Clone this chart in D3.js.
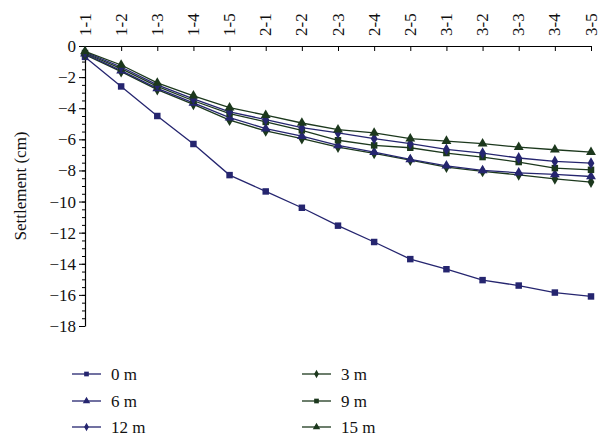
<!DOCTYPE html>
<html><head><meta charset="utf-8">
<script src="https://cdn.jsdelivr.net/npm/d3@7"></script>
<style>body{margin:0;background:#fff}svg{display:block}</style>
</head><body><svg id="c" width="602" height="438"></svg>
<script>
const categories = ["1-1","1-2","1-3","1-4","1-5","2-1","2-2","2-3","2-4","2-5","3-1","3-2","3-3","3-4","3-5"];
const s0m  = [-0.7,-2.6,-4.5,-6.3,-8.3,-9.35,-10.4,-11.55,-12.6,-13.7,-14.35,-15.05,-15.4,-15.85,-16.1];
const s3m  = [-0.55,-1.65,-2.8,-3.75,-4.77,-5.46,-5.96,-6.5,-6.9,-7.33,-7.78,-8.06,-8.28,-8.54,-8.75];
const s6m  = [-0.5,-1.58,-2.72,-3.66,-4.6,-5.31,-5.8,-6.39,-6.82,-7.29,-7.7,-8.0,-8.15,-8.25,-8.39];
const s9m  = [-0.45,-1.45,-2.6,-3.52,-4.34,-4.88,-5.42,-6.06,-6.39,-6.54,-6.88,-7.14,-7.46,-7.85,-7.96];
const s12m = [-0.4,-1.35,-2.5,-3.4,-4.24,-4.73,-5.25,-5.59,-5.96,-6.28,-6.65,-6.88,-7.2,-7.42,-7.53];
const s15m = [-0.35,-1.22,-2.37,-3.2,-3.96,-4.45,-4.95,-5.38,-5.59,-5.96,-6.11,-6.28,-6.5,-6.67,-6.82];
const yTicks = [0,-2,-4,-6,-8,-10,-12,-14,-16,-18];
const seriesNames = ["0 m","3 m","6 m","9 m","12 m","15 m"];

const NAVY = "#25256f", GREEN = "#1c381d";
const FONT = "'Liberation Serif', monospace";
const series = [
  {name: seriesNames[0], values: s0m, color: NAVY, shape: "square"},
  {name: seriesNames[1], values: s3m, color: GREEN, shape: "diamond"},
  {name: seriesNames[2], values: s6m, color: NAVY, shape: "triangle"},
  {name: seriesNames[3], values: s9m, color: GREEN, shape: "square"},
  {name: seriesNames[4], values: s12m, color: NAVY, shape: "diamond"},
  {name: seriesNames[5], values: s15m, color: GREEN, shape: "triangle"}
];

const svg = d3.select("#c").style("font-family", FONT);
const x = d3.scalePoint().domain(categories).range([85, 591]).padding(0);
const y = d3.scaleLinear().domain([0, -18]).range([46, 326]);

const fmt = d => d === 0 ? "0" : "\u2212" + Math.abs(d);

const minor = d3.range(0, -18.01, -0.5);
svg.append("g").attr("transform","translate(85,0)")
  .call(d3.axisLeft(y).tickValues(minor).tickSize(3).tickFormat(""))
  .call(g => g.select(".domain").remove())
  .call(g => g.selectAll("line").attr("stroke","#000"));
svg.append("g").attr("transform","translate(85,0)")
  .call(d3.axisLeft(y).tickValues(yTicks).tickSize(6).tickSizeOuter(0).tickFormat(""))
  .call(g => g.select(".domain").attr("stroke","#000").attr("stroke-width",1.2))
  .call(g => g.selectAll("line").attr("stroke","#000"));
svg.append("g").selectAll("text").data(yTicks).join("text")
  .attr("x", 76).attr("y", d => y(d) + 6)
  .attr("text-anchor","end").style("font-family",FONT).style("font-size","17px").attr("fill","#111")
  .text(fmt);

svg.append("g").attr("transform","translate(0,46)")
  .call(d3.axisBottom(x).tickSize(5).tickSizeOuter(0).tickFormat(""))
  .call(g => g.select(".domain").attr("stroke","#000").attr("stroke-width",1.2))
  .call(g => g.selectAll("line").attr("stroke","#000"));
svg.append("g").selectAll("text").data(categories).join("text")
  .attr("transform", d => `translate(${x(d)+5.5},36) rotate(-90)`)
  .style("font-family", FONT).style("font-size","17px").attr("fill","#111")
  .attr("text-anchor","start").text(d => d);

svg.append("text").style("font-family", FONT).style("font-size","17px").attr("fill","#111")
  .attr("transform","translate(26,186) rotate(-90)")
  .attr("text-anchor","middle").text("Settlement (cm)");

function symbolFor(shape){
  if (shape === "square") return d3.symbol().type(d3.symbolSquare).size(42);
  if (shape === "triangle") return d3.symbol().type(d3.symbolTriangle).size(42);
  return d3.symbol().type(d3.symbolDiamond).size(40);
}

const line = d3.line().x((d,i) => x(categories[i])).y(d => y(d));
series.forEach(s => {
  svg.append("path").attr("d", line(s.values)).attr("fill","none")
    .attr("stroke", s.color).attr("stroke-width",1.3);
  svg.append("g").selectAll("path").data(s.values).join("path")
    .attr("d", symbolFor(s.shape)())
    .attr("transform", (d,i) => `translate(${x(categories[i])},${y(d)})`)
    .attr("fill", s.color);
});

const legendPos = [[72,374],[302,374],[72,401],[302,401],[72,427],[302,427]];
series.forEach((s, k) => {
  const [lx, ly] = legendPos[k];
  const g = svg.append("g").attr("transform",`translate(${lx},${ly})`);
  g.append("line").attr("x1",0).attr("x2",29).attr("stroke",s.color).attr("stroke-width",1.3);
  const sym = s.shape === "square" ? d3.symbol().type(d3.symbolSquare).size(22)
    : s.shape === "triangle" ? d3.symbol().type(d3.symbolTriangle).size(24)
    : d3.symbol().type(d3.symbolDiamond).size(20);
  g.append("path").attr("d", sym()).attr("transform","translate(14.5,0)").attr("fill",s.color);
  g.append("text").style("font-family", FONT).style("font-size","17px").attr("fill","#111")
    .attr("x",39).attr("y",6).text(s.name);
});
</script></body></html>
